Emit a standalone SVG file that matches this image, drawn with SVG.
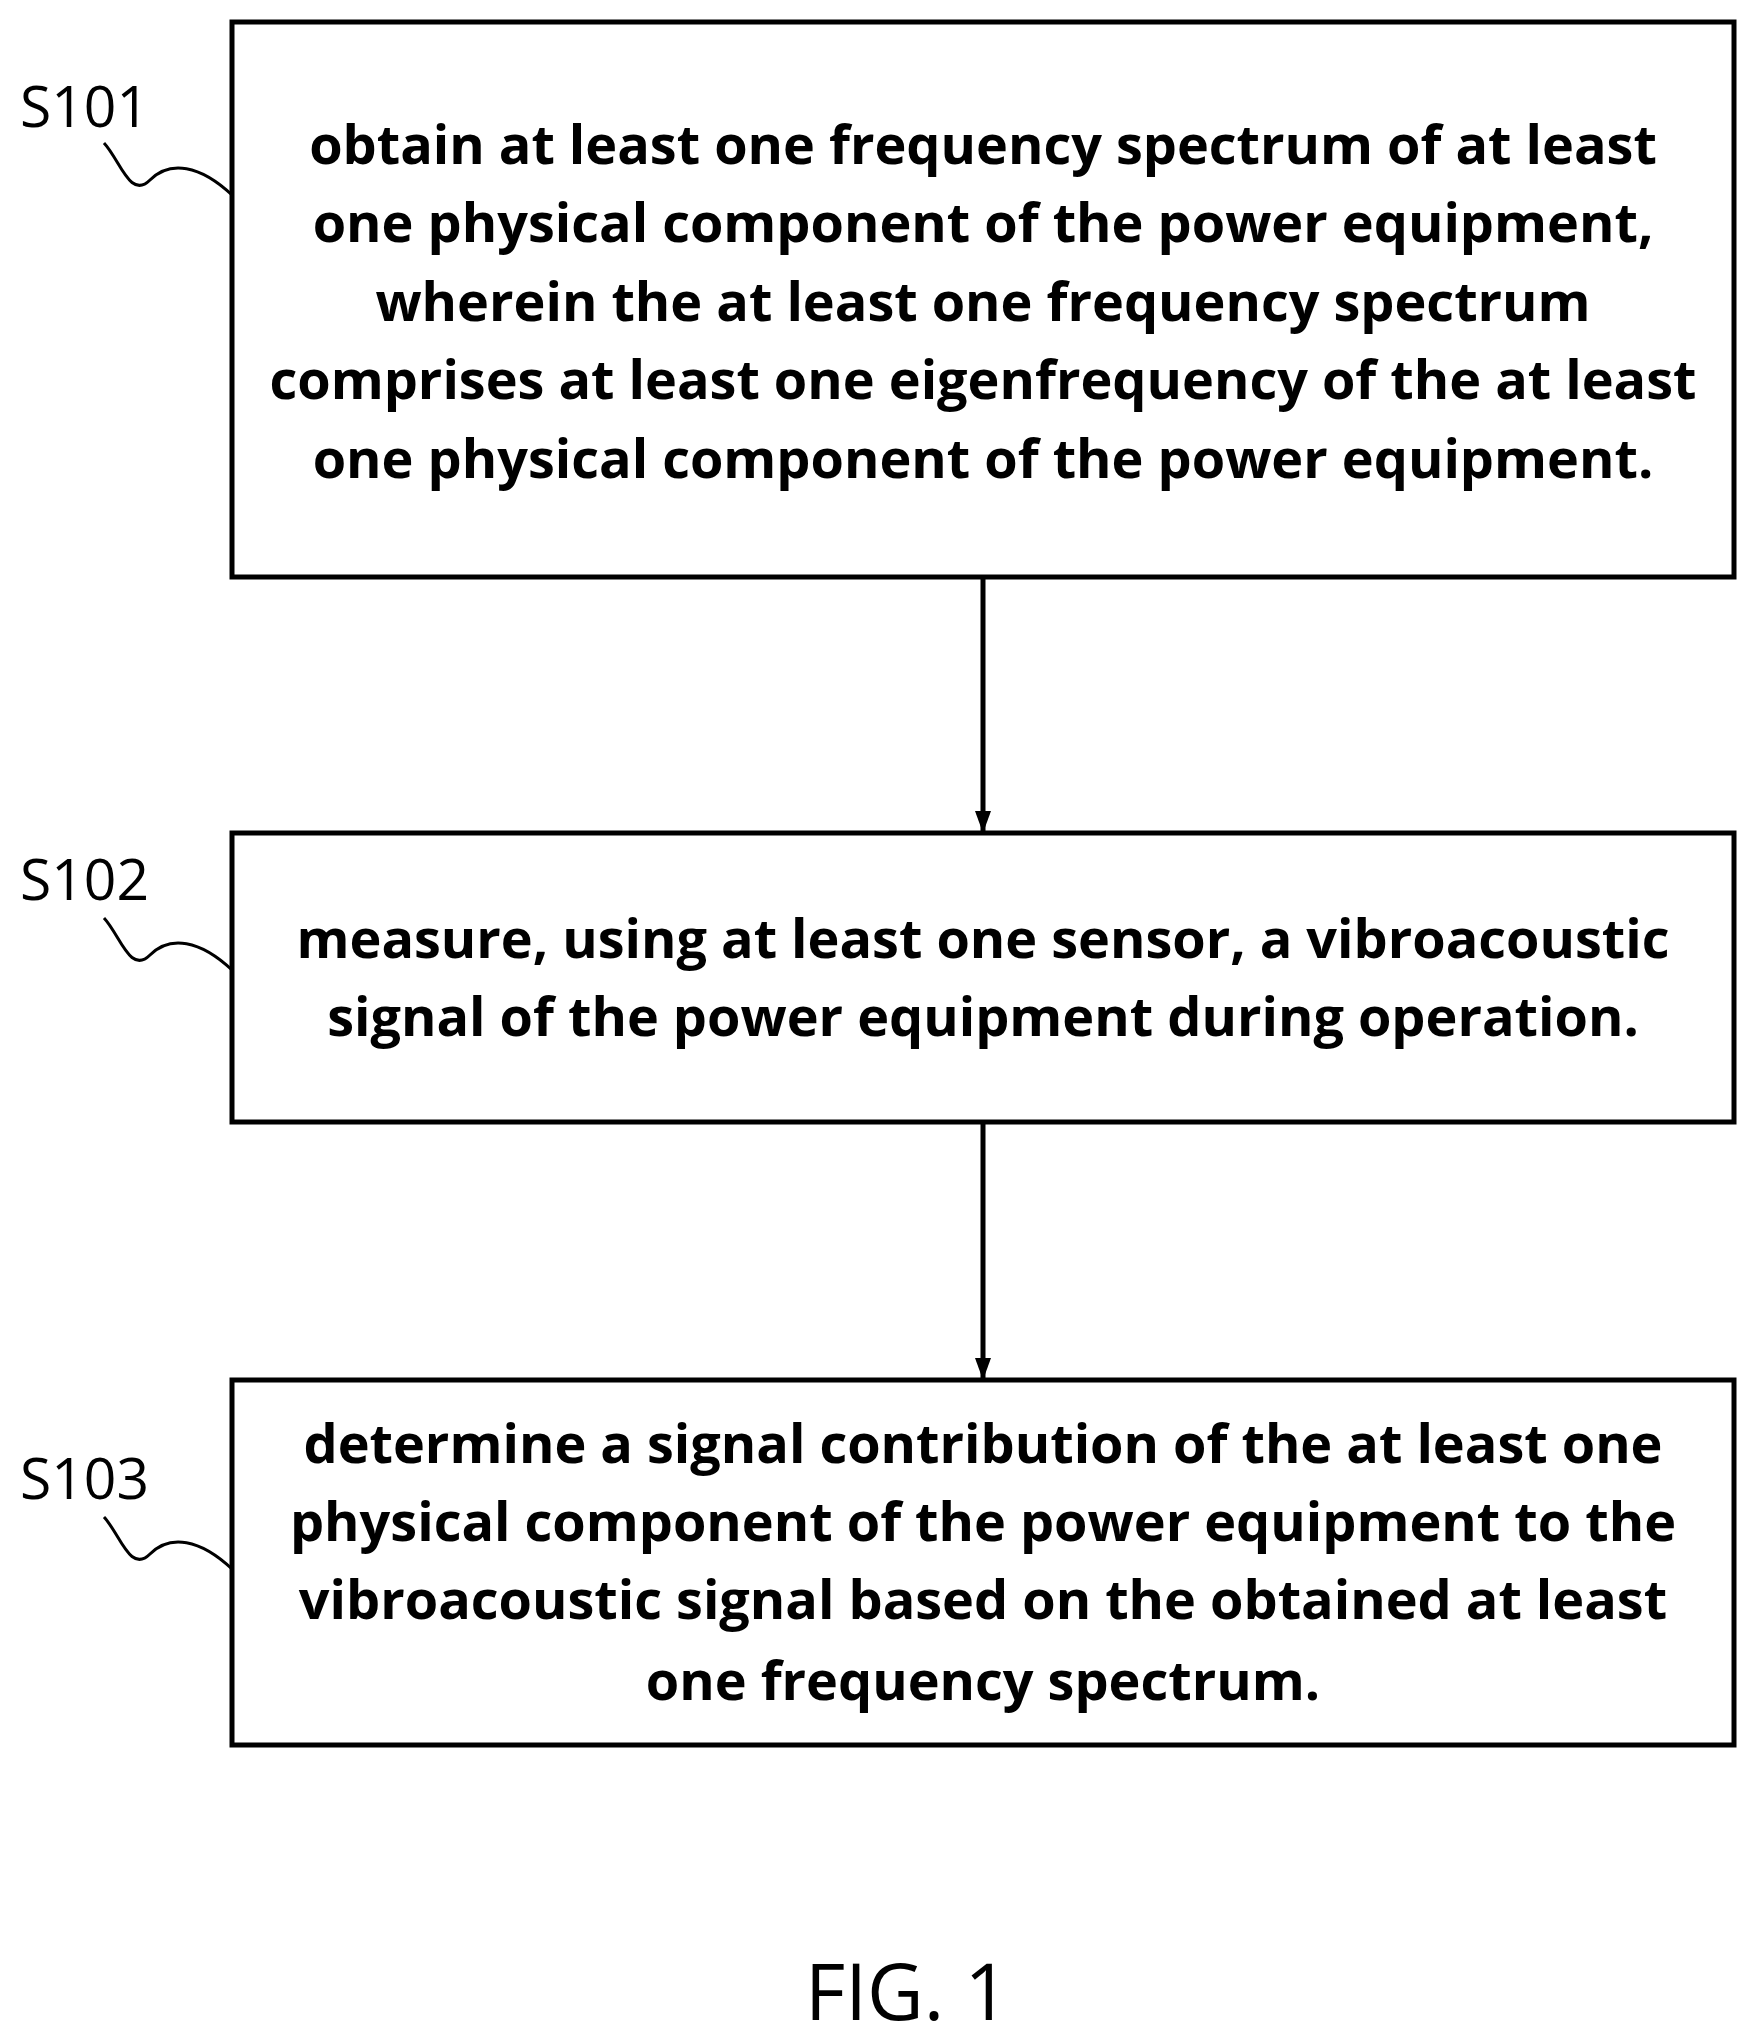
<svg xmlns="http://www.w3.org/2000/svg" width="1758" height="2043" viewBox="0 0 1758 2043">
<style>
.box{fill:#fff;stroke:#000;stroke-width:5}
.t{font-family:"Open Sans","Liberation Sans",sans-serif;font-weight:bold;font-size:54px;text-anchor:middle}
.l{font-family:"Open Sans","Liberation Sans",sans-serif;font-size:57px}
.sq{fill:none;stroke:#000;stroke-width:3}
.c{stroke:#000;stroke-width:5;fill:none}
</style>
<defs>
<marker id="a" markerWidth="24" markerHeight="24" refX="22" refY="8" orient="auto" markerUnits="userSpaceOnUse"><path d="M0,0 L22,8 L0,16 Z"/></marker></defs>
<rect width="1758" height="2043" fill="#fff"/>
<g id="s101">
<rect class="box" x="232" y="22" width="1502" height="555"/>
<text class="t" x="983" y="164">obtain at least one frequency spectrum of at least</text>
<text class="t" x="983" y="242">one physical component of the power equipment,</text>
<text class="t" x="983" y="321">wherein the at least one frequency spectrum</text>
<text class="t" x="983" y="399">comprises at least one eigenfrequency of the at least</text>
<text class="t" x="983" y="478">one physical component of the power equipment.</text>
<text class="l" x="20" y="127">S101</text>
<path class="sq" d="M104,143 C120,160 130,200 150,180 C170,160 200,165 232,195"/>
</g>
<g id="s102">
<rect class="box" x="232" y="833" width="1502" height="289"/>
<text class="t" x="983" y="958">measure, using at least one sensor, a vibroacoustic</text>
<text class="t" x="983" y="1036">signal of the power equipment during operation.</text>
<text class="l" x="20" y="900">S102</text>
<path class="sq" d="M104,918 C120,935 130,975 150,955 C170,935 200,940 232,970"/>
</g>
<g id="s103">
<rect class="box" x="232" y="1380" width="1502" height="365"/>
<text class="t" x="983" y="1463">determine a signal contribution of the at least one</text>
<text class="t" x="983" y="1541">physical component of the power equipment to the</text>
<text class="t" x="983" y="1619">vibroacoustic signal based on the obtained at least</text>
<text class="t" x="983" y="1700">one frequency spectrum.</text>
<text class="l" x="20" y="1499">S103</text>
<path class="sq" d="M104,1517 C120,1534 130,1574 150,1554 C170,1534 200,1539 232,1569"/>
</g>
<g id="connectors">
<line class="c" x1="983" y1="577" x2="983" y2="833" marker-end="url(#a)"/>
<line class="c" x1="983" y1="1122" x2="983" y2="1380" marker-end="url(#a)"/>
</g>
<text class="l" x="907" y="2020" text-anchor="middle" style="font-size:78px">FIG. 1</text>
</svg>
